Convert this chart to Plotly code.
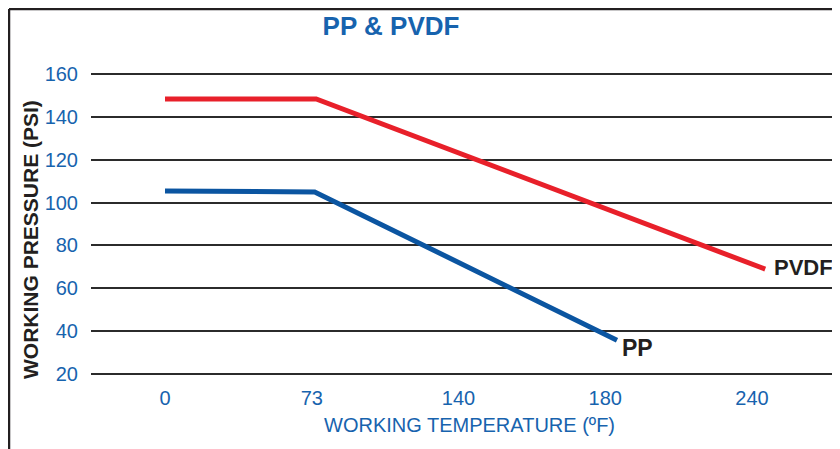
import plotly.graph_objects as go

# Category tick labels (evenly spaced positions on the x axis)
temp_labels = ["0", "73", "140", "180", "240"]
temp_pos = [0, 1, 2, 3, 4]

# Series: x given as category position, y = working pressure (PSI)
pvdf_x = [0, 1.03, 4.09]
pvdf_y = [148.5, 148.5, 68.9]
pp_x = [0, 1.02, 3.08]
pp_y = [105.4, 105.0, 35.7]

y_ticks = [20, 40, 60, 80, 100, 120, 140, 160]

BLUE = "#1763ae"
RED = "#e8202a"
LINEBLUE = "#0b55a1"
DARK = "#231f20"
FONT = "Liberation Sans, Arial, sans-serif"

# the page body has an 8px margin; size the figure so it fits the window
OX, OY = 8, 8
W, H = 840 - OX, 449 - OY
L, R, T, B = 91 - OX, 0, 62, 71
plot_h = H - T - B
plot_w = W - L - R


def px(xr):
    return (xr - OX - L) / plot_w


def py(yr):
    return (H - B - (yr - OY)) / plot_h


fig = go.Figure()
fig.add_trace(go.Scatter(x=pvdf_x, y=pvdf_y, mode="lines", name="PVDF",
                         line=dict(color=RED, width=5), showlegend=False))
fig.add_trace(go.Scatter(x=pp_x, y=pp_y, mode="lines", name="PP",
                         line=dict(color=LINEBLUE, width=5), showlegend=False))

fig.add_annotation(x=pvdf_x[-1], y=pvdf_y[-1], text="<b>PVDF</b>", showarrow=False,
                   xanchor="left", yanchor="middle", xshift=7, yshift=2,
                   font=dict(family=FONT, size=22, color=DARK))
fig.add_annotation(x=pp_x[-1], y=pp_y[-1], text="<b>PP</b>", showarrow=False,
                   xanchor="left", yanchor="middle", xshift=3, yshift=-8,
                   font=dict(family=FONT, size=23, color=DARK))

# axis titles
fig.add_annotation(xref="paper", yref="paper", x=px(470), y=py(425),
                   text="WORKING TEMPERATURE (ºF)", showarrow=False,
                   xanchor="center", yanchor="middle",
                   font=dict(family=FONT, size=20, color=BLUE))
fig.add_annotation(xref="paper", yref="paper", x=px(30), y=py(240),
                   text="<b>WORKING PRESSURE (PSI)</b>", showarrow=False,
                   textangle=-90, xanchor="center", yanchor="middle",
                   font=dict(family=FONT, size=21, color=DARK))

fig.update_layout(
    width=W, height=H,
    margin=dict(l=L, r=R, t=T, b=B),
    paper_bgcolor="white", plot_bgcolor="white",
    title=dict(text="<b>PP &amp; PVDF</b>", x=(391 - OX) / W, xanchor="center",
               y=1 - (26 - OY) / H, yanchor="middle",
               font=dict(family=FONT, size=26, color=BLUE)),
    font=dict(family=FONT),
    xaxis=dict(
        range=[(91 - 165) / 146.75, (840 - 165) / 146.75],
        tickvals=temp_pos, ticktext=temp_labels,
        showgrid=False, zeroline=False, showline=False,
        ticks="", ticklabelstandoff=6,
        tickfont=dict(family=FONT, size=20, color=BLUE),
    ),
    yaxis=dict(
        range=[18, 162],
        tickvals=y_ticks,
        showgrid=True, gridcolor="#2b2b2b", gridwidth=1.5,
        zeroline=False, showline=False,
        ticks="", ticklabelstandoff=12,
        tickfont=dict(family=FONT, size=20, color=BLUE),
    ),
)

# Frame lines (left and top border of the figure)
fx = px(9)
fy = py(8) - 1 / plot_h
fig.add_shape(type="line", xref="paper", yref="paper", x0=fx, x1=fx,
              y0=-B / plot_h - 0.02, y1=fy,
              line=dict(color=DARK, width=2.5))
fig.add_shape(type="line", xref="paper", yref="paper", x0=fx, x1=1.02, y0=fy, y1=fy,
              line=dict(color=DARK, width=2.5))

fig.write_html("out.html")
